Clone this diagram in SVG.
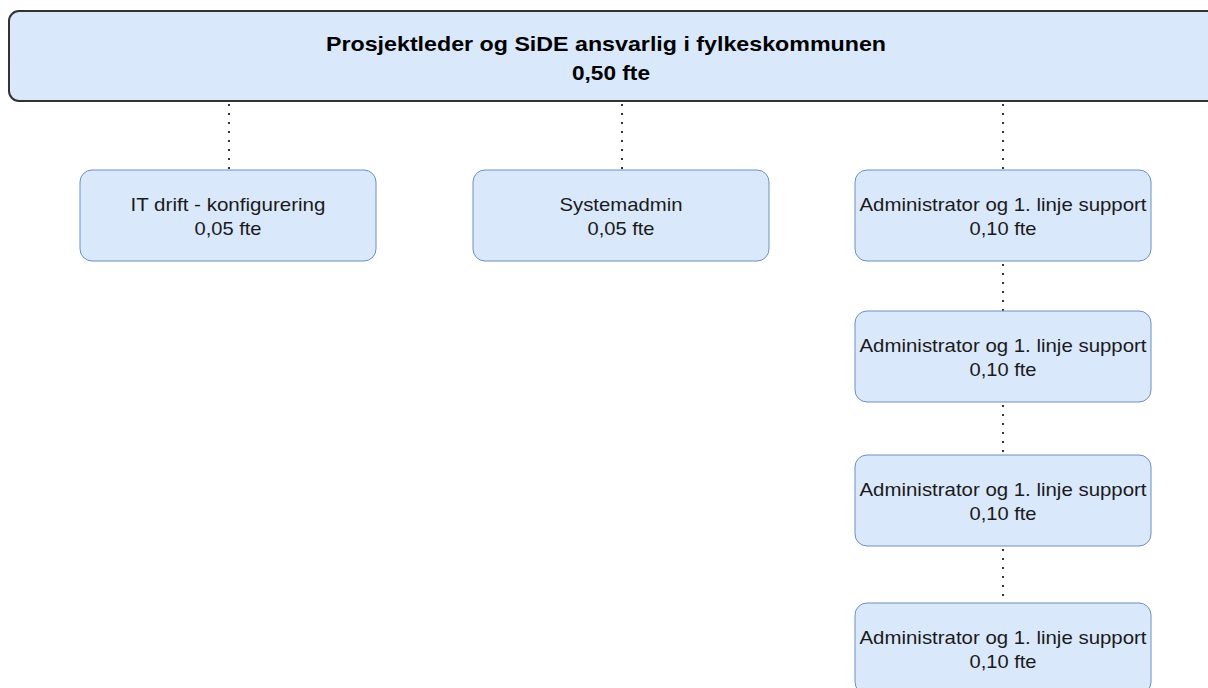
<svg xmlns="http://www.w3.org/2000/svg" width="1208" height="688" viewBox="0 0 1208 688">
<style>
.top{fill:#dae8fc;stroke:#333333;stroke-width:2}
.box{fill:#dae8fc;stroke:#6c8ebf;stroke-width:1}
.t{font-family:"Liberation Sans",Arial,sans-serif;font-size:19px;fill:#1a1a1a;text-anchor:middle}
.tb{font-family:"Liberation Sans",Arial,sans-serif;font-size:21px;font-weight:bold;fill:#000;text-anchor:middle}
.c{stroke:#333333;stroke-width:2;stroke-dasharray:2 7;fill:none}
</style>
<rect width="1208" height="688" fill="#ffffff"/>
<g id="connectors">
<line class="c" x1="229" y1="104" x2="229" y2="170"/>
<line class="c" x1="622" y1="104" x2="622" y2="170"/>
<line class="c" x1="1003" y1="104" x2="1003" y2="170"/>
<line class="c" x1="1003" y1="264" x2="1003" y2="311"/>
<line class="c" x1="1003" y1="405" x2="1003" y2="455"/>
<line class="c" x1="1003" y1="549" x2="1003" y2="603"/>
</g>
<g id="root">
<rect class="top" x="9" y="11" width="1220" height="90" rx="10"/>
<text class="tb" x="606" y="51" textLength="560" lengthAdjust="spacingAndGlyphs">Prosjektleder og SiDE ansvarlig i fylkeskommunen</text>
<text class="tb" x="611" y="80" textLength="78" lengthAdjust="spacingAndGlyphs">0,50 fte</text>
</g>
<g id="it-drift">
<rect class="box" x="80" y="170" width="296" height="91" rx="12"/>
<text class="t" x="228" y="211" textLength="195" lengthAdjust="spacingAndGlyphs">IT drift - konfigurering</text>
<text class="t" x="228" y="235" textLength="67" lengthAdjust="spacingAndGlyphs">0,05 fte</text>
</g>
<g id="systemadmin">
<rect class="box" x="473" y="170" width="296" height="91" rx="12"/>
<text class="t" x="621" y="211" textLength="123" lengthAdjust="spacingAndGlyphs">Systemadmin</text>
<text class="t" x="621" y="235" textLength="67" lengthAdjust="spacingAndGlyphs">0,05 fte</text>
</g>
<g id="admin1">
<rect class="box" x="855" y="170" width="296" height="91" rx="12"/>
<text class="t" x="1003" y="211" textLength="287" lengthAdjust="spacingAndGlyphs">Administrator og 1. linje support</text>
<text class="t" x="1003" y="235" textLength="67" lengthAdjust="spacingAndGlyphs">0,10 fte</text>
</g>
<g id="admin2">
<rect class="box" x="855" y="311" width="296" height="91" rx="12"/>
<text class="t" x="1003" y="352" textLength="287" lengthAdjust="spacingAndGlyphs">Administrator og 1. linje support</text>
<text class="t" x="1003" y="376" textLength="67" lengthAdjust="spacingAndGlyphs">0,10 fte</text>
</g>
<g id="admin3">
<rect class="box" x="855" y="455" width="296" height="91" rx="12"/>
<text class="t" x="1003" y="496" textLength="287" lengthAdjust="spacingAndGlyphs">Administrator og 1. linje support</text>
<text class="t" x="1003" y="520" textLength="67" lengthAdjust="spacingAndGlyphs">0,10 fte</text>
</g>
<g id="admin4">
<rect class="box" x="855" y="603" width="296" height="91" rx="12"/>
<text class="t" x="1003" y="644" textLength="287" lengthAdjust="spacingAndGlyphs">Administrator og 1. linje support</text>
<text class="t" x="1003" y="668" textLength="67" lengthAdjust="spacingAndGlyphs">0,10 fte</text>
</g>
</svg>
